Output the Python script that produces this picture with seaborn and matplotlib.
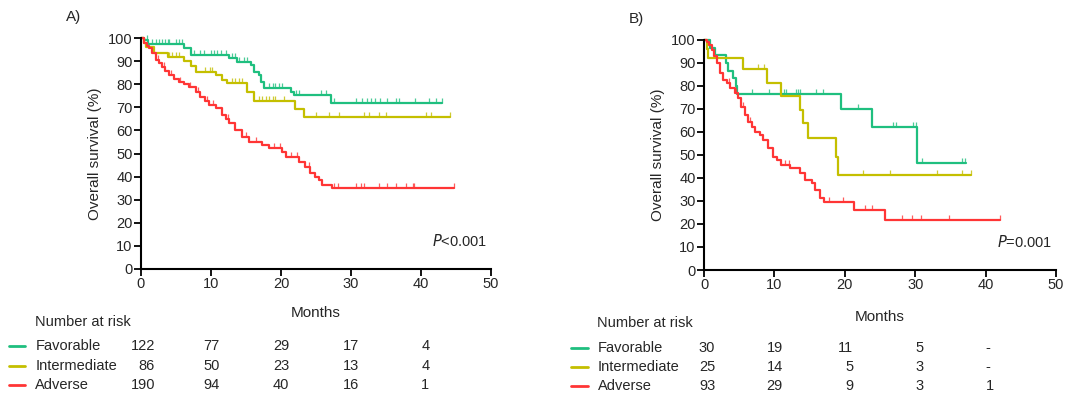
import seaborn as sns
import numpy as np
import pandas as pd
import matplotlib.pyplot as plt
from matplotlib import transforms

# group names and colours
groups = ['Favorable', 'Intermediate', 'Adverse']
colors = {'Favorable': '#1fbf7f', 'Intermediate': '#c4bf00', 'Adverse': '#ff3535'}

# Panel A - step curves (months, survival %)
a_fav_t = [0, 0.5, 1.0, 6.1, 7.1, 12.6, 13.7, 15.7, 16.1, 16.9, 17.1, 17.6, 21.4, 21.8, 27.1, 43.0]
a_fav_s = [100, 99, 97.5, 95.6, 92.6, 91.2, 89.7, 88.3, 85.4, 84.0, 81.1, 78.2, 76.8, 75.3, 71.7, 71.7]
a_int_t = [0, 0.4, 0.7, 1.9, 3.8, 6.1, 7.1, 7.8, 10.7, 11.6, 12.3, 15.2, 16.1, 22.0, 23.3, 44.1]
a_int_s = [100, 98, 96.2, 93.4, 91.6, 90.2, 87.9, 85.4, 84.0, 81.8, 80.4, 76.8, 72.9, 69.3, 65.7, 65.7]
a_adv_t = [0, 0.43, 0.8, 1.14, 1.6, 2.1, 2.6, 3.05, 3.5, 4.0, 4.7, 5.43, 6.1, 6.86, 7.8, 8.5, 9.1,
           9.7, 10.7, 11.6, 12.1, 12.6, 13.5, 14.5, 15.4, 17.3, 18.3, 20.2, 20.7, 22.6, 23.5, 24.2,
           24.8, 25.4, 25.9, 27.3, 44.7]
a_adv_s = [100, 97.7, 96.5, 95.5, 93.4, 90.5, 89.0, 87.6, 85.8, 84.0, 82.5, 81.1, 80.0, 78.9, 76.8,
           74.6, 72.8, 71.0, 69.6, 66.7, 65.0, 63.1, 60.2, 57.3, 55.1, 53.7, 52.2, 50.8, 48.6, 46.5,
           44.3, 41.4, 40.0, 38.5, 36.4, 34.9, 34.9]

# Panel A - censor times
a_fav_c = [0.9, 1.6, 2.1, 2.6, 3.05, 3.5, 3.8, 4.0, 4.95, 5.4, 5.9, 7.6, 8.5, 9.0, 10.0, 10.4, 10.9,
           11.4, 12.1, 13.0, 13.5, 14.0, 14.7, 15.2, 18.3, 18.8, 19.2, 19.7, 20.2, 22.1, 22.6, 25.7,
           26.4, 27.6, 30.7, 31.6, 32.3, 32.8, 33.5, 34.2, 35.2, 36.4, 36.9, 39.2, 41.1, 42.1, 43.0]
a_int_c = [4.0, 4.5, 5.0, 5.4, 9.2, 9.8, 10.2, 13.0, 13.5, 14.0, 14.5, 16.9, 17.3, 17.8, 18.3, 18.8,
           19.2, 20.4, 25.0, 26.9, 28.3, 31.9, 32.6, 34.0, 34.95, 40.7, 41.4, 44.1]
a_adv_c = [2.4, 3.3, 4.3, 5.6, 7.0, 8.2, 9.4, 10.3, 12.4, 15.0, 16.5, 19.0, 19.8, 21.5, 22.3, 24.0,
           27.6, 28.1, 30.7, 31.4, 31.9, 34.0, 35.2, 36.4, 37.8, 38.8, 39.0, 44.7]

# Panel B - step curves
b_fav_t = [0, 0.85, 1.56, 3.1, 3.45, 4.16, 4.49, 4.63, 19.5, 23.8, 30.3, 37.2]
b_fav_s = [100, 96.7, 93.3, 90.0, 86.7, 83.3, 80.0, 76.7, 70.0, 62.0, 46.5, 46.5]
b_int_t = [0, 0.38, 0.5, 5.5, 9.0, 10.9, 13.6, 14.1, 14.8, 18.7, 19.0, 37.9]
b_int_s = [100, 96.0, 92.0, 87.2, 81.4, 75.7, 69.6, 63.8, 57.2, 49.3, 41.3, 41.3]
b_adv_t = [0, 0.38, 0.75, 1.09, 1.42, 1.8, 2.27, 2.74, 3.2, 3.69, 4.4, 4.87, 5.3, 5.8, 6.29, 6.76,
           7.2, 7.9, 8.4, 9.1, 9.8, 10.3, 11.0, 12.2, 13.6, 14.3, 15.3, 15.7, 16.5, 17.0, 21.3,
           25.7, 42.0]
b_adv_s = [100, 98.9, 97.8, 95.7, 92.8, 89.9, 85.5, 82.6, 81.2, 79.0, 76.8, 74.6, 71.0, 67.4, 64.5,
           62.3, 60.1, 58.7, 56.5, 52.9, 49.3, 47.8, 45.7, 44.2, 42.0, 39.1, 37.7, 34.8, 31.2, 29.7,
           26.1, 21.7, 21.7]

# Panel B - censor times
b_fav_c = [6.8, 9.2, 11.3, 11.7, 13.1, 13.4, 13.6, 15.9, 16.9, 21.8, 26.9, 27.3, 29.7, 30.1, 31.0,
           36.7, 37.1]
b_int_c = [7.7, 8.5, 22.6, 26.4, 33.1, 36.7, 37.9]
b_adv_c = [3.5, 4.6, 5.5, 6.5, 11.5, 12.0, 17.8, 19.7, 22.8, 23.8, 28.1, 29.5, 30.8, 34.8, 42.0]

# number at risk tables
risk_months = [0, 10, 20, 30, 40]
a_risk_fav = [122, 77, 29, 17, 4]
a_risk_int = [86, 50, 23, 13, 4]
a_risk_adv = [190, 94, 40, 16, 1]
b_risk_fav = [30, 19, 11, 5, '-']
b_risk_int = [25, 14, 5, 3, '-']
b_risk_adv = [93, 29, 9, 3, 1]

sns.set_style('ticks')
plt.rcParams['font.family'] = ['Liberation Sans', 'DejaVu Sans']

fig = plt.figure(figsize=(10.67, 3.94), dpi=100)
axA = fig.add_axes([0.1321, 0.3173, 0.328, 0.586])
axB = fig.add_axes([0.6598, 0.3147, 0.330, 0.584])

# censor tick pointing up from the curve
up_tick = [(0, 0), (0, 1)]


def draw_panel(ax, curves, censors, risks, letter, pval, rows_y, head_y, months_y, first_x):
    for name in groups:
        t, s = curves[name]
        df = pd.DataFrame({'Months': t, 'Survival': s})
        sns.lineplot(data=df, x='Months', y='Survival', ax=ax, color=colors[name],
                     drawstyle='steps-post', linewidth=1.6, estimator=None, sort=False,
                     clip_on=False)
        # censor marks sit on the step curve
        c = np.array(censors[name])
        idx = np.searchsorted(np.array(t), c, side='right') - 1
        ax.plot(c, np.array(s)[idx], linestyle='none', marker=up_tick, markersize=7,
                markeredgewidth=0.9, markerfacecolor='none', color=colors[name],
                alpha=0.8, clip_on=False)

    ax.set_xlim(0, 50)
    ax.set_ylim(0, 100)
    ax.set_xticks(range(0, 51, 10))
    ax.set_yticks(range(0, 101, 10))
    ax.tick_params(labelsize=10.5, length=5, width=1.3, pad=1, color='black')
    for sp in ['left', 'bottom']:
        ax.spines[sp].set_linewidth(1.5)
        ax.spines[sp].set_color('black')
    sns.despine(ax=ax)
    ax.set_xlabel('')
    ax.set_ylabel('Overall survival (%)', fontsize=11, labelpad=4)
    ax.text(-0.215, 1.09, letter, transform=ax.transAxes, fontsize=11, va='center')
    ax.text(0.99, 0.1, pval, transform=ax.transAxes, fontsize=10.5, ha='right')
    ax.text(0.5, months_y, 'Months', transform=ax.transAxes, fontsize=11,
            ha='center', va='center')

    trans = transforms.blended_transform_factory(ax.transData, ax.transAxes)
    ax.text(-15.2, head_y, 'Number at risk', transform=trans, fontsize=10.5, va='center')
    for name, yy in zip(groups, rows_y):
        ax.plot([-18.9, -16.5], [yy, yy], transform=trans, color=colors[name],
                linewidth=2, clip_on=False)
        ax.text(-15.1, yy, name, transform=trans, fontsize=10.5, va='center')
        for m, v in zip(risk_months, risks[name]):
            xx = first_x if m == 0 else m + 1.2
            if v == '-':
                ax.text(m + 0.3, yy, v, transform=trans, fontsize=10.5, va='center', ha='center')
            else:
                ax.text(xx, yy, str(v), transform=trans, fontsize=10.5, va='center', ha='right')


draw_panel(axA,
           {'Favorable': (a_fav_t, a_fav_s), 'Intermediate': (a_int_t, a_int_s),
            'Adverse': (a_adv_t, a_adv_s)},
           {'Favorable': a_fav_c, 'Intermediate': a_int_c, 'Adverse': a_adv_c},
           {'Favorable': a_risk_fav, 'Intermediate': a_risk_int, 'Adverse': a_risk_adv},
           'A)', '$\\it{P}$<0.001', [-0.333, -0.420, -0.502], -0.228, -0.19, 2.0)

draw_panel(axB,
           {'Favorable': (b_fav_t, b_fav_s), 'Intermediate': (b_int_t, b_int_s),
            'Adverse': (b_adv_t, b_adv_s)},
           {'Favorable': b_fav_c, 'Intermediate': b_int_c, 'Adverse': b_adv_c},
           {'Favorable': b_risk_fav, 'Intermediate': b_risk_int, 'Adverse': b_risk_adv},
           'B)', '$\\it{P}$=0.001', [-0.341, -0.423, -0.504], -0.229, -0.203, 1.6)

fig.savefig('out.png', dpi=100)
